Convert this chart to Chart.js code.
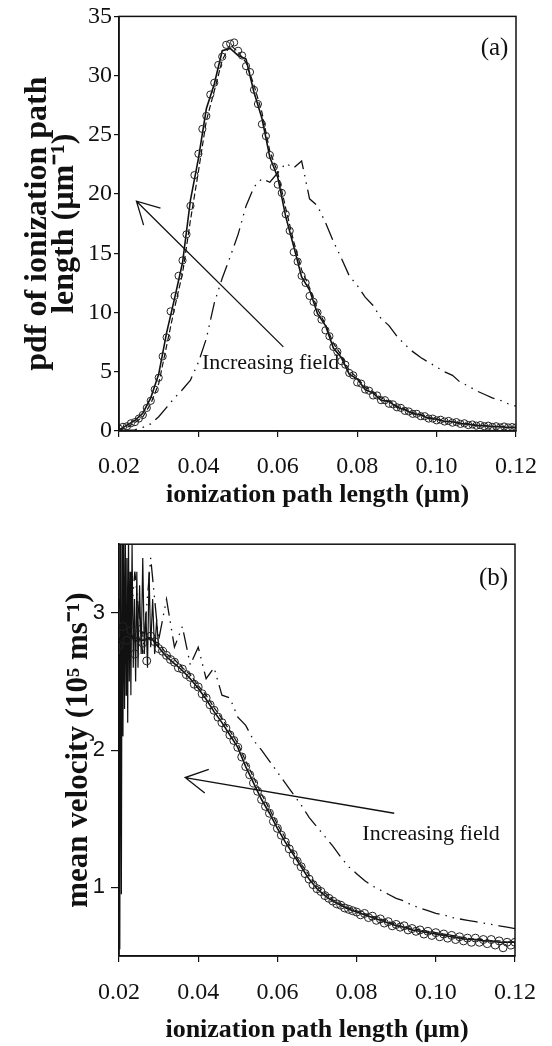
<!DOCTYPE html>
<html>
<head>
<meta charset="utf-8">
<script src="https://cdn.jsdelivr.net/npm/chart.js@4.4.1/dist/chart.umd.min.js"></script>
<style>
  html, body { margin: 0; padding: 0; background: #fff; }
  #wrap { position: relative; width: 552px; height: 1046px; overflow: hidden; }
  canvas { position: absolute; left: 0; }
  #chartA { top: 0; width: 552px; height: 525px; }
  #chartB { top: 525px; width: 552px; height: 521px; }
</style>
</head>
<body>
<div id="wrap">
  <canvas id="chartA" width="552" height="525"></canvas>
  <canvas id="chartB" width="552" height="521"></canvas>
</div>
<script>
// ionization path length grid (µm)
const pathFine = [
  0.020, 0.021, 0.022, 0.023, 0.024, 0.025, 0.026, 0.027, 0.028, 0.029,
  0.030, 0.031, 0.032, 0.033, 0.034, 0.035, 0.036, 0.037, 0.038, 0.039,
  0.040, 0.041, 0.042, 0.043, 0.044, 0.045, 0.046, 0.047, 0.048, 0.049,
  0.050, 0.051, 0.052, 0.053, 0.054, 0.055, 0.056, 0.057, 0.058, 0.059,
  0.060, 0.061, 0.062, 0.063, 0.064, 0.065, 0.066, 0.067, 0.068, 0.069,
  0.070, 0.071, 0.072, 0.073, 0.074, 0.075, 0.076, 0.077, 0.078, 0.079,
  0.080, 0.081, 0.082, 0.083, 0.084, 0.085, 0.086, 0.087, 0.088, 0.089,
  0.090, 0.091, 0.092, 0.093, 0.094, 0.095, 0.096, 0.097, 0.098, 0.099,
  0.100, 0.101, 0.102, 0.103, 0.104, 0.105, 0.106, 0.107, 0.108, 0.109,
  0.110, 0.111, 0.112, 0.113, 0.114, 0.115, 0.116, 0.117, 0.118, 0.119,
  0.120,
];
const pathCoarse = [
  0.020, 0.022, 0.024, 0.026, 0.028, 0.030, 0.032, 0.034, 0.036, 0.038,
  0.040, 0.042, 0.044, 0.046, 0.048, 0.050, 0.052, 0.054, 0.056, 0.058,
  0.060, 0.062, 0.064, 0.066, 0.068, 0.070, 0.072, 0.074, 0.076, 0.078,
  0.080, 0.082, 0.084, 0.086, 0.088, 0.090, 0.092, 0.094, 0.096, 0.098,
  0.100, 0.102, 0.104, 0.106, 0.108, 0.110, 0.112, 0.114, 0.116, 0.118,
  0.120,
];
const xTicks = [0.02, 0.04, 0.06, 0.08, 0.10, 0.12];

// (a) pdf of ionization path length (µm^-1)
const pdfCircles = [
  0.2, 0.35, 0.4, 0.65, 0.75, 1.05, 1.35, 1.95, 2.55, 3.5,
  4.5, 6.3, 7.9, 10.1, 11.4, 13.1, 14.4, 16.6, 19.0, 21.6,
  23.4, 25.5, 26.6, 28.4, 29.4, 30.9, 31.6, 32.6, 32.7, 32.8,
  32.1, 31.7, 30.8, 30.3, 28.8, 27.6, 25.9, 24.9, 23.3, 22.3,
  20.8, 20.1, 18.3, 16.9, 15.1, 14.3, 13.1, 12.5, 11.4, 10.9,
  10.0, 9.4, 8.5, 8.0, 7.1, 6.7, 5.9, 5.6, 4.9, 4.7,
  4.1, 4.0, 3.5, 3.4, 3.0, 3.0, 2.6, 2.6, 2.3, 2.25,
  2.0, 1.95, 1.7, 1.65, 1.45, 1.45, 1.25, 1.25, 1.05, 1.05,
  0.9, 0.95, 0.8, 0.85, 0.7, 0.75, 0.6, 0.65, 0.5, 0.55,
  0.45, 0.5, 0.4, 0.45, 0.35, 0.4, 0.3, 0.38, 0.3, 0.33,
  0.3,
];
const pdfSolid = [
  0.1, 0.5, 0.9, 1.5, 2.8, 4.8, 8.3, 11.2, 14.2, 19.5,
  23.0, 27.2, 29.3, 32.1, 32.3, 31.7, 31.4, 28.6, 26.4, 23.1,
  21.4, 18.1, 15.6, 13.0, 11.9, 9.9, 8.9, 7.0, 6.2, 4.8,
  4.4, 3.5, 3.2, 2.6, 2.5, 2.0, 1.8, 1.45, 1.35, 1.05,
  1.0, 0.8, 0.78, 0.62, 0.58, 0.45, 0.45, 0.36, 0.37, 0.3,
  0.31,
];
const pdfDashed = [
  0.05, 0.3, 0.7, 1.2, 2.3, 4.0, 7.2, 10.4, 13.3, 17.8,
  21.9, 26.2, 28.7, 31.3, 32.6, 32.0, 31.1, 29.2, 26.9, 23.6,
  21.8, 18.8, 16.0, 13.6, 12.1, 10.3, 9.0, 7.4, 6.4, 5.1,
  4.5, 3.7, 3.3, 2.8, 2.5, 2.1, 1.85, 1.55, 1.4, 1.15,
  1.0, 0.85, 0.8, 0.68, 0.6, 0.5, 0.46, 0.4, 0.38, 0.33,
  0.3,
];
const pdfLowField = [
  0.0, 0.05, 0.1, 0.3, 0.6, 1.2, 2.0, 2.8, 3.5, 4.3,
  5.8, 7.8, 10.8, 12.9, 14.7, 16.6, 19.0, 20.6, 21.3, 21.0,
  21.8, 22.6, 22.2, 22.8, 19.6, 19.0, 17.6, 16.0, 14.6, 13.1,
  12.3, 11.3, 10.6, 9.5, 8.9, 8.0, 7.3, 6.7, 6.2, 5.8,
  5.4, 5.0, 4.7, 4.1, 3.8, 3.4, 3.1, 2.8, 2.6, 2.3,
  2.1,
];
const pdfTicks = [0, 5, 10, 15, 20, 25, 30, 35];

// (b) mean velocity (10^5 m/s)
const velCircles = [
  2.76, 2.9, 2.8, 2.87, 2.7, 2.84, 2.78, 2.65, 2.83, 2.79,
  2.74, 2.72, 2.69, 2.66, 2.64, 2.6, 2.59, 2.55, 2.53, 2.48,
  2.46, 2.41, 2.38, 2.33, 2.29, 2.24, 2.2, 2.16, 2.11, 2.07,
  2.02, 1.95, 1.88, 1.82, 1.76, 1.7, 1.64, 1.59, 1.54, 1.48,
  1.43, 1.38, 1.33, 1.28, 1.24, 1.19, 1.15, 1.1, 1.06, 1.02,
  0.99, 0.97, 0.94, 0.92, 0.9, 0.88, 0.87, 0.85, 0.84, 0.83,
  0.82, 0.8, 0.81, 0.78, 0.79, 0.76, 0.77, 0.74, 0.75, 0.72,
  0.73, 0.71, 0.72, 0.69, 0.7, 0.68, 0.69, 0.66, 0.68, 0.65,
  0.67, 0.64, 0.66, 0.63, 0.65, 0.62, 0.64, 0.61, 0.63, 0.6,
  0.63, 0.6, 0.62, 0.59, 0.62, 0.58, 0.61, 0.56, 0.6, 0.58,
  0.6,
];
const velSolid = [
  2.78, 2.85, 2.82, 2.8, 2.82, 2.75, 2.68, 2.63, 2.58, 2.52,
  2.45, 2.37, 2.28, 2.2, 2.11, 2.02, 1.88, 1.76, 1.64, 1.54,
  1.43, 1.33, 1.24, 1.15, 1.06, 0.99, 0.94, 0.9, 0.87, 0.84,
  0.82, 0.8, 0.78, 0.76, 0.74, 0.72, 0.71, 0.69, 0.68, 0.67,
  0.66, 0.65, 0.64, 0.63, 0.62, 0.62, 0.61, 0.61, 0.6, 0.6,
  0.6,
];
const velDashed = [
  2.8, 2.9, 2.78, 2.86, 2.8, 2.78, 2.7, 2.66, 2.6, 2.55,
  2.47, 2.4, 2.31, 2.23, 2.14, 2.05, 1.92, 1.8, 1.68, 1.57,
  1.46, 1.36, 1.26, 1.17, 1.09, 1.01, 0.96, 0.91, 0.88, 0.85,
  0.83, 0.81, 0.79, 0.77, 0.75, 0.73, 0.71, 0.7, 0.69, 0.68,
  0.67, 0.66, 0.65, 0.64, 0.63, 0.62, 0.62, 0.61, 0.61, 0.6,
  0.6,
];
const velLowField = [
  3.1, 2.6, 3.3, 2.7, 3.4, 2.8, 3.1, 2.75, 2.9, 2.62,
  2.75, 2.52, 2.6, 2.4, 2.38, 2.24, 2.18, 2.07, 2.0, 1.92,
  1.84, 1.76, 1.68, 1.6, 1.51, 1.44, 1.37, 1.3, 1.22, 1.15,
  1.1, 1.05, 1.01, 0.98, 0.95, 0.92, 0.9, 0.87, 0.85, 0.83,
  0.81, 0.8, 0.78, 0.77, 0.76, 0.75, 0.74, 0.73, 0.72, 0.71,
  0.7,
];
const velSpikeX = [
  0.0200, 0.0202, 0.0204, 0.0206, 0.0208, 0.0210, 0.0212, 0.0214, 0.0216, 0.0218,
  0.0220, 0.0222, 0.0224, 0.0226, 0.0228, 0.0230, 0.0233, 0.0236, 0.0239, 0.0242,
  0.0245, 0.0248, 0.0252, 0.0256, 0.0260, 0.0264, 0.0268, 0.0272, 0.0276, 0.0280,
  0.0285, 0.0290, 0.0295, 0.0300,
];
const velSpikeY = [
  2.7, 0.55, 3.6, 0.95, 3.6, 2.1, 3.5, 2.3, 3.6, 2.4,
  3.4, 2.2, 3.6, 2.5, 3.3, 2.4, 3.5, 2.6, 3.1, 2.5,
  3.3, 2.6, 3.2, 2.7, 3.4, 2.7, 3.0, 2.6, 3.3, 2.75,
  3.1, 2.7, 2.95, 2.75,
];
const velTicks = [1, 2, 3];

const SERIF = "'Liberation Serif', 'Times New Roman', serif";
const SANS = "'Liberation Sans', Arial, sans-serif";
const INK = "#111";
const DASH_DOT = [18, 6, 1.5, 6, 1.5, 6];

function pts(xs, ys) {
  return xs.map((x, i) => ({ x, y: ys[i] }));
}

function lineSet(xs, ys, width, dash) {
  return {
    data: pts(xs, ys),
    showLine: true,
    borderColor: INK,
    borderWidth: width,
    borderDash: dash || [],
    pointRadius: 0,
  };
}

function circleSet(xs, ys, r) {
  return {
    data: pts(xs, ys),
    showLine: false,
    pointRadius: r,
    pointBorderWidth: 1,
    pointBorderColor: "#222",
    pointBackgroundColor: "rgba(0,0,0,0)",
  };
}

// box around the plot, arrow and free text
const overlay = {
  id: "overlay",
  afterDatasetsDraw(chart, args, opts) {
    const { ctx, chartArea: a, scales } = chart;
    ctx.save();
    ctx.strokeStyle = INK;
    ctx.lineWidth = 1.5;
    ctx.strokeRect(a.left, a.top, a.right - a.left, a.bottom - a.top);

    if (opts.arrow) {
      const x1 = scales.x.getPixelForValue(opts.arrow.from[0]);
      const y1 = scales.y.getPixelForValue(opts.arrow.from[1]);
      const x2 = scales.x.getPixelForValue(opts.arrow.to[0]);
      const y2 = scales.y.getPixelForValue(opts.arrow.to[1]);
      const ang = Math.atan2(y1 - y2, x1 - x2);
      const hl = 25, ha = 0.5;
      ctx.lineWidth = 1.3;
      ctx.beginPath();
      ctx.moveTo(x1, y1);
      ctx.lineTo(x2, y2);
      ctx.moveTo(x2 + hl * Math.cos(ang + ha), y2 + hl * Math.sin(ang + ha));
      ctx.lineTo(x2, y2);
      ctx.lineTo(x2 + hl * Math.cos(ang - ha), y2 + hl * Math.sin(ang - ha));
      ctx.stroke();
    }

    (opts.labels || []).forEach((l) => {
      ctx.font = `${l.size}px ${SERIF}`;
      ctx.fillStyle = INK;
      ctx.textAlign = "center";
      ctx.textBaseline = "middle";
      ctx.fillText(l.text, scales.x.getPixelForValue(l.at[0]), scales.y.getPixelForValue(l.at[1]));
    });
    ctx.restore();
  },
};

function xAxis(axisHeight, tickPad, titlePad) {
  return {
    type: "linear",
    min: 0.02,
    max: 0.12,
    afterBuildTicks: (s) => { s.ticks = xTicks.map((v) => ({ value: v })); },
    afterFit: (s) => { s.height = axisHeight; },
    ticks: {
      color: INK,
      padding: tickPad,
      font: { family: SERIF, size: 24 },
      callback: (v) => Number(v).toFixed(2),
    },
    grid: { display: true, drawOnChartArea: false, drawTicks: true, tickLength: 6, color: INK, lineWidth: 1.2 },
    border: { display: true, color: INK, width: 1.5 },
    title: {
      display: true,
      text: "ionization path length (µm)",
      color: INK,
      font: { family: SERIF, size: 26, weight: "bold" },
      padding: { top: 0, bottom: titlePad },
    },
  };
}

const baseOptions = {
  responsive: false,
  animation: false,
  events: [],
  elements: { line: { tension: 0 } },
};

new Chart(document.getElementById("chartA"), {
  type: "scatter",
  data: {
    datasets: [
      circleSet(pathFine, pdfCircles, 3.6),
      lineSet(pathCoarse, pdfSolid, 1.6),
      lineSet(pathCoarse, pdfDashed, 1.2, [6, 3]),
      lineSet(pathCoarse, pdfLowField, 1.3, DASH_DOT),
    ],
  },
  options: {
    ...baseOptions,
    layout: { padding: { top: 15, right: 27, left: 0, bottom: 0 } },
    scales: {
      x: xAxis(94, 15, 14),
      y: {
        type: "linear",
        min: 0,
        max: 35,
        afterBuildTicks: (s) => { s.ticks = pdfTicks.map((v) => ({ value: v })); },
        afterFit: (s) => { s.width = 119; },
        ticks: { color: INK, padding: 2, font: { family: SERIF, size: 24 } },
        grid: { display: true, drawOnChartArea: false, drawTicks: true, tickLength: 5, color: INK, lineWidth: 1.2 },
        border: { display: true, color: INK, width: 1.5 },
        title: {
          display: true,
          text: ["pdf of ionization path", "length (µm⁻¹)"],
          color: INK,
          font: { family: SERIF, size: 32, weight: "bold", lineHeight: 0.82 },
          padding: { top: 25, bottom: 0 },
        },
      },
    },
    plugins: {
      legend: { display: false },
      tooltip: { enabled: false },
      overlay: {
        arrow: { from: [0.0614, 7.1], to: [0.0244, 19.4] },
        labels: [
          { text: "(a)", at: [0.1146, 32.3], size: 25 },
          { text: "Increasing field", at: [0.0582, 5.7], size: 22 },
        ],
      },
    },
  },
  plugins: [overlay],
});

new Chart(document.getElementById("chartB"), {
  type: "scatter",
  data: {
    datasets: [
      circleSet(pathFine, velCircles, 4),
      lineSet(pathCoarse, velSolid, 1.6),
      lineSet(pathCoarse, velDashed, 1.2, [6, 3]),
      lineSet(velSpikeX, velSpikeY, 1.2),
      lineSet(pathCoarse, velLowField, 1.3, DASH_DOT),
    ],
  },
  options: {
    ...baseOptions,
    layout: { padding: { top: 13, right: 27, left: 0, bottom: 0 } },
    scales: {
      x: xAxis(90, 16, 0),
      y: {
        type: "linear",
        min: 0.5,
        max: 3.5,
        afterBuildTicks: (s) => { s.ticks = velTicks.map((v) => ({ value: v })); },
        afterFit: (s) => { s.width = 119; },
        ticks: { color: INK, padding: 6, font: { family: SANS, size: 22 } },
        grid: { display: true, drawOnChartArea: false, drawTicks: true, tickLength: 8, color: INK, lineWidth: 1.2 },
        border: { display: true, color: INK, width: 1.5 },
        title: {
          display: true,
          text: "mean velocity (10⁵ ms⁻¹)",
          color: INK,
          font: { family: SERIF, size: 31, weight: "bold" },
          padding: { top: 60, bottom: 0 },
        },
      },
    },
    plugins: {
      legend: { display: false },
      tooltip: { enabled: false },
      overlay: {
        arrow: { from: [0.0895, 1.54], to: [0.0367, 1.8] },
        labels: [
          { text: "(b)", at: [0.1146, 3.25], size: 25 },
          { text: "Increasing field", at: [0.0988, 1.39], size: 22 },
        ],
      },
    },
  },
  plugins: [overlay],
});
</script>
</body>
</html>
